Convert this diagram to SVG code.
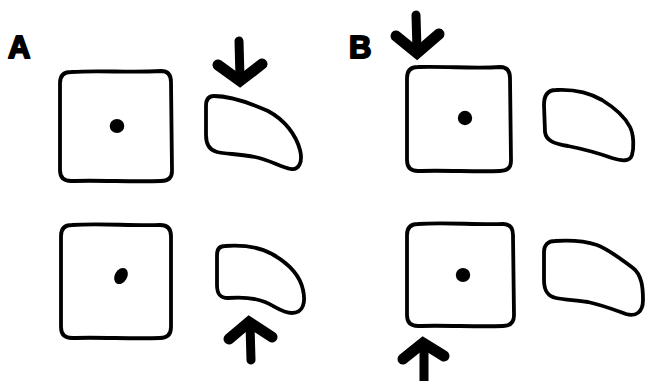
<svg xmlns="http://www.w3.org/2000/svg" width="645" height="381" viewBox="0 0 645 381">
<style>
.o{fill:none;stroke:#000;stroke-width:3.8;stroke-linejoin:round}
.d{fill:#000}
.lbl{font-family:"Liberation Sans",Arial,sans-serif;font-weight:bold;font-size:31px;fill:#000;stroke:#000;stroke-width:2;stroke-linejoin:round}
.shaft{fill:none;stroke:#000;stroke-width:9;stroke-linecap:round}
.head{fill:none;stroke:#000;stroke-width:11;stroke-linejoin:miter;stroke-linecap:round;stroke-miterlimit:4}
</style>
<rect width="645" height="381" fill="#fff"/>
<text class="lbl" x="8" y="58">A</text>
<text class="lbl" x="349" y="58">B</text>
<g id="a-top-cell">
<path class="o" d="M71,72 C100,70 130,73 161,71 Q171,71 171,82 L172,171 Q172,181 161,181 C130,182 100,180 71,181 Q60,181 60,170 L60,83 Q60,72 71,72 Z"/>
<ellipse class="d" cx="117" cy="126" rx="7.3" ry="7"/>
</g>
<g id="a-top-shape">
<path class="o" d="M214,96 C230,96 250,103 268,111 C285,120 296,135 300,150 C303,162 299,170 291,169 C280,167 270,160 255,157 C240,154 225,154 217,152 C209,150 206,144 206,135 L206,106 C206,99 209,96 214,96 Z"/>
</g>
<g id="a-bottom-cell">
<path class="o" d="M72,225 C100,223 130,226 160,225 Q171,225 171,236 L171,327 Q171,338 160,338 C130,339 100,337 72,338 Q61,338 61,327 L61,236 Q61,225 72,225 Z"/>
<ellipse class="d" cx="121" cy="276" rx="6.2" ry="8.6" transform="rotate(30 121 276)"/>
</g>
<g id="a-bottom-shape">
<path class="o" d="M225,246 C240,245 258,246 272,254 C288,263 300,275 303,290 C306,303 303,313 292,313 C282,313 275,306 265,302 C255,298 240,297 228,298 C220,298 217,294 217,285 L217,255 C217,249 220,246 225,246 Z"/>
</g>
<g id="b-top-cell">
<path class="o" d="M418,67 C445,66 475,69 500,67 Q510,67 510,78 L511,161 Q511,171 500,171 C475,172 445,170 418,171 Q407,171 407,160 L407,78 Q407,67 418,67 Z"/>
<ellipse class="d" cx="465" cy="118" rx="7.2" ry="7.2"/>
</g>
<g id="b-top-shape">
<path class="o" d="M556,90 C575,89 590,93 602,100 C615,108 625,117 630,127 C634,135 634,148 632,155 C630,162 622,161 612,158 C598,153 583,149 568,146 C555,144 546,141 545,132 L544,105 C544,95 548,90 556,90 Z"/>
</g>
<g id="b-bottom-cell">
<path class="o" d="M418,224 C445,222 475,225 503,224 Q513,224 513,235 L514,315 Q514,326 503,326 C475,327 445,325 418,326 Q407,326 407,315 L407,235 Q407,224 418,224 Z"/>
<ellipse class="d" cx="463" cy="275" rx="7.2" ry="6.9"/>
</g>
<g id="b-bottom-shape">
<path class="o" d="M555,241 C570,240 585,241 597,245 C610,250 622,260 633,268 C642,275 643,288 643,300 C643,312 636,317 626,314 C615,310 602,305 588,302 C575,300 565,300 556,298 C547,296 544,290 544,280 L544,252 C544,245 548,241 555,241 Z"/>
</g>
<g id="connectors">
<path class="shaft" d="M239,41 L240,78"/>
<path class="head" d="M218,65 L240,81 L262,64"/>
<path class="shaft" d="M416,15 L417,50"/>
<path class="head" d="M396,36 L417,53 L439,34"/>
<path class="shaft" d="M251,360 L250,325"/>
<path class="head" d="M229,339 L249,322 L272,337"/>
<path class="shaft" d="M424,390 L424,346"/>
<path class="head" d="M403,359 L423,343 L444,356"/>
</g>
</svg>
